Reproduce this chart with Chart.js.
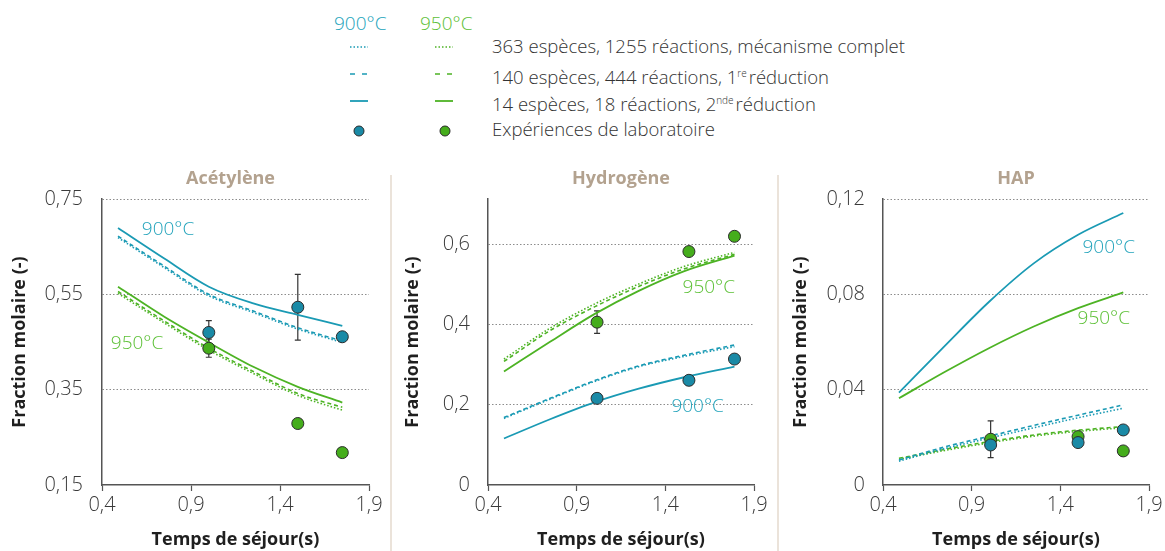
<!DOCTYPE html>
<html lang="fr">
<head>
<meta charset="utf-8">
<script src="https://cdn.jsdelivr.net/npm/chart.js@4.4.0/dist/chart.umd.min.js"></script>
<style>
  body { margin: 0; width: 1165px; height: 551px; background: #fff; position: relative; overflow: hidden;
         font-family: 'Open Sans', sans-serif; }
  .panel { position: absolute; top: 160px; height: 391px; }
  .sep { position: absolute; top: 175px; width: 2px; height: 376px; background: #ebe3da; }
  .lg { position: absolute; white-space: nowrap; line-height: 24px; }
  .lg-head { font-size: 19px; font-weight: 300; top: 11px; }
  .lg-row { font-size: 18.5px; font-weight: 300; color: #333; left: 492px; }
  .lg-row sup { font-size: 10px; vertical-align: 7px; margin-right: 2px; }
  #legendMarks { position: absolute; left: 0; top: 0; }
</style>
</head>
<body>

<!-- legende -->
<div class="lg lg-head" style="left:334px;color:#22a3bb">900°C</div>
<div class="lg lg-head" style="left:420px;color:#5cc036">950°C</div>
<svg id="legendMarks" width="1165" height="145">
  <line x1="350" y1="47" x2="368" y2="47" stroke="#1a9ab4" stroke-width="1.5" stroke-dasharray="1.5 2"/>
  <line x1="435" y1="47" x2="453" y2="47" stroke="#4db324" stroke-width="1.5" stroke-dasharray="1.5 2"/>
  <line x1="350" y1="74" x2="368" y2="74" stroke="#1a9ab4" stroke-width="1.5" stroke-dasharray="5 7"/>
  <line x1="435" y1="74" x2="453" y2="74" stroke="#4db324" stroke-width="1.5" stroke-dasharray="5 7"/>
  <line x1="350" y1="101" x2="368" y2="101" stroke="#1a9ab4" stroke-width="1.8"/>
  <line x1="435" y1="101" x2="453" y2="101" stroke="#4db324" stroke-width="1.8"/>
  <circle cx="359" cy="131" r="5" fill="#1a8aa6" stroke="#2b2b2b" stroke-width="1"/>
  <circle cx="445" cy="131" r="5" fill="#45ad1c" stroke="#2b2b2b" stroke-width="1"/>
</svg>
<div class="lg lg-row" style="top:34px">363 espèces, 1255 réactions, mécanisme complet</div>
<div class="lg lg-row" style="top:61px">140 espèces, 444 réactions, 1<sup>re</sup>réduction</div>
<div class="lg lg-row" style="top:88px">14 espèces, 18 réactions, 2<sup>nde</sup>réduction</div>
<div class="lg lg-row" style="top:117px">Expériences de laboratoire</div>

<div class="sep" style="left:390px"></div>
<div class="sep" style="left:777px"></div>

<canvas id="aceChart" class="panel" style="left:0px" width="390" height="391"></canvas>
<canvas id="h2Chart" class="panel" style="left:390px" width="390" height="391"></canvas>
<canvas id="hapChart" class="panel" style="left:780px" width="385" height="391"></canvas>

<script>
// Temps de séjour (s)
const X_TICKS = [0.4, 0.9, 1.4, 1.9];

// Acétylène
const ACE_T_MODEL = [0.49, 0.75, 1.0, 1.25, 1.5, 1.75];
const ACE_900_COMPLET = [0.669, 0.606, 0.547, 0.512, 0.477, 0.449];
const ACE_900_RED1 = [0.672, 0.609, 0.550, 0.515, 0.480, 0.452];
const ACE_900_RED2 = [0.689, 0.625, 0.566, 0.531, 0.507, 0.484];
const ACE_950_COMPLET = [0.552, 0.490, 0.433, 0.384, 0.338, 0.307];
const ACE_950_RED1 = [0.556, 0.494, 0.437, 0.388, 0.342, 0.313];
const ACE_950_RED2 = [0.566, 0.503, 0.449, 0.398, 0.356, 0.323];
const ACE_T_EXP = [1.0, 1.5, 1.75];
const ACE_900_EXP = [0.470, 0.523, 0.461];
const ACE_900_ERR = [0.025, 0.069, 0.008];
const ACE_950_EXP = [0.437, 0.279, 0.218];
const ACE_950_ERR = [0.019, 0.006, 0];
const ACE_Y_TICKS = [0.15, 0.35, 0.55, 0.75];

// Hydrogène
const H2_T_MODEL = [0.49, 0.75, 1.0, 1.25, 1.5, 1.79];
const H2_900_COMPLET = [0.166, 0.214, 0.258, 0.295, 0.320, 0.345];
const H2_900_RED1 = [0.168, 0.216, 0.260, 0.297, 0.323, 0.349];
const H2_900_RED2 = [0.116, 0.164, 0.206, 0.240, 0.268, 0.295];
const H2_950_COMPLET = [0.314, 0.391, 0.451, 0.501, 0.544, 0.580];
const H2_950_RED1 = [0.308, 0.385, 0.444, 0.495, 0.538, 0.575];
const H2_950_RED2 = [0.283, 0.357, 0.426, 0.484, 0.532, 0.572];
const H2_T_EXP = [1.015, 1.533, 1.79];
const H2_900_EXP = [0.216, 0.261, 0.314];
const H2_900_ERR = [0, 0.012, 0];
const H2_950_EXP = [0.406, 0.582, 0.620];
const H2_950_ERR = [0.028, 0, 0];
const H2_Y_TICKS = [0, 0.2, 0.4, 0.6];

// HAP
const HAP_T_MODEL = [0.49, 0.75, 1.0, 1.25, 1.5, 1.755];
const HAP_900_COMPLET = [0.0100, 0.0153, 0.0197, 0.0240, 0.0282, 0.0322];
const HAP_900_RED1 = [0.0105, 0.0160, 0.0205, 0.0250, 0.0293, 0.0336];
const HAP_900_RED2 = [0.0388, 0.0585, 0.0770, 0.0930, 0.1050, 0.1141];
const HAP_950_COMPLET = [0.0108, 0.0145, 0.0177, 0.0205, 0.0225, 0.0240];
const HAP_950_RED1 = [0.0112, 0.0150, 0.0182, 0.0210, 0.0230, 0.0245];
const HAP_950_RED2 = [0.0364, 0.0475, 0.0575, 0.0665, 0.0742, 0.0808];
const HAP_T_EXP = [1.007, 1.5, 1.755];
const HAP_900_EXP = [0.0168, 0.0178, 0.0231];
const HAP_900_ERR = [0, 0, 0];
const HAP_950_EXP = [0.0192, 0.0203, 0.0143];
const HAP_950_ERR = [0.0077, 0, 0];
const HAP_Y_TICKS = [0, 0.04, 0.08, 0.12];

const TEAL = '#1a9ab4';
const GREEN = '#4db324';
const TEAL_TEXT = '#22a3bb';
const GREEN_TEXT = '#5cc036';
const TEAL_DOT = '#1a8aa6';
const GREEN_DOT = '#45ad1c';
const FONT = 'Open Sans';

const pts = (xs, ys) => xs.map((x, i) => ({ x: x, y: ys[i] }));
const fr = (v, d) => v === 0 ? '0' : v.toFixed(d).replace('.', ',');

function modelLine(xs, ys, color, dash) {
    return {
        data: pts(xs, ys),
        showLine: true,
        borderColor: color,
        borderWidth: dash.length ? 1.6 : 1.8,
        borderDash: dash,
        pointRadius: 0,
        cubicInterpolationMode: 'monotone',
        order: 1
    };
}

function expPoints(xs, ys, errs, fill) {
    return {
        data: pts(xs, ys),
        errors: errs,
        showLine: false,
        pointRadius: 6,
        pointBackgroundColor: fill,
        pointBorderColor: '#2b2b2b',
        pointBorderWidth: 1,
        order: 0
    };
}

// titre du panneau + étiquettes de température
const panelText = {
    id: 'panelText',
    afterDraw(chart, args, opts) {
        const { ctx, chartArea, scales } = chart;
        ctx.save();
        ctx.textAlign = 'center';
        ctx.textBaseline = 'middle';
        ctx.font = 'bold 18px "' + FONT + '"';
        ctx.fillStyle = '#b3a28f';
        ctx.fillText(opts.title, (chartArea.left + chartArea.right) / 2 + (opts.titleShift || 0), 19);
        ctx.font = '300 19px "' + FONT + '"';
        opts.notes.forEach(n => {
            ctx.fillStyle = n.color;
            ctx.fillText(n.text, scales.x.getPixelForValue(n.x), scales.y.getPixelForValue(n.y));
        });
        ctx.restore();
    }
};

// barres d'erreur des mesures
const errorBars = {
    id: 'errorBars',
    beforeDatasetsDraw(chart) {
        const { ctx, scales } = chart;
        ctx.save();
        ctx.strokeStyle = '#333';
        ctx.lineWidth = 1.2;
        chart.data.datasets.forEach(ds => {
            if (!ds.errors) return;
            ds.data.forEach((p, i) => {
                const e = ds.errors[i];
                if (!e) return;
                const x = scales.x.getPixelForValue(p.x);
                const y1 = scales.y.getPixelForValue(p.y - e);
                const y2 = scales.y.getPixelForValue(p.y + e);
                ctx.beginPath();
                ctx.moveTo(x, y1); ctx.lineTo(x, y2);
                ctx.moveTo(x - 3, y1); ctx.lineTo(x + 3, y1);
                ctx.moveTo(x - 3, y2); ctx.lineTo(x + 3, y2);
                ctx.stroke();
            });
        });
        ctx.restore();
    }
};

function makePanel(id, p) {
    const tickFont = { family: FONT, size: 20, weight: '300' };
    const titleFont = { family: FONT, size: 18, weight: 'bold' };
    return new Chart(document.getElementById(id), {
        type: 'scatter',
        data: { datasets: p.datasets },
        plugins: [panelText, errorBars],
        options: {
            responsive: false,
            animation: false,
            layout: { padding: { top: 39, right: p.padRight, left: 0, bottom: 0 } },
            plugins: {
                legend: { display: false },
                tooltip: { enabled: false },
                panelText: { title: p.title, titleShift: p.titleShift, notes: p.notes }
            },
            scales: {
                x: {
                    type: 'linear',
                    min: 0.4,
                    max: 1.9,
                    afterBuildTicks: s => { s.ticks = X_TICKS.map(v => ({ value: v })); },
                    afterFit: s => { s.height = 66; },
                    grid: { drawOnChartArea: false, drawTicks: true, tickLength: 6, tickColor: '#555', tickWidth: 1.2 },
                    border: { color: '#555', width: 1.5 },
                    ticks: { padding: 2, color: '#3a3a3a', font: tickFont, callback: v => fr(v, 1) },
                    title: { display: true, text: 'Temps de séjour(s)', color: '#1f1f1f', font: titleFont,
                             padding: { top: 0, bottom: 0 } }
                },
                y: {
                    type: 'linear',
                    min: p.yMin,
                    max: p.yMax,
                    afterBuildTicks: s => { s.ticks = p.yTicks.map(v => ({ value: v })); },
                    afterFit: s => { s.width = p.axisWidth; },
                    grid: {
                        drawTicks: false,
                        lineWidth: 1,
                        color: c => c.tick && c.tick.value === p.yMin ? 'rgba(0,0,0,0)' : '#8c8c8c'
                    },
                    border: { color: '#555', width: 1.5, dash: [1.5, 2] },
                    ticks: { padding: p.tickPad, color: '#3a3a3a', font: tickFont, callback: v => fr(v, p.dec) },
                    title: { display: true, text: 'Fraction molaire (-)', color: '#1f1f1f', font: titleFont,
                             padding: { top: p.yTitlePad, bottom: 0 } }
                }
            }
        }
    });
}

makePanel('aceChart', {
    title: 'Acétylène', titleShift: -5,
    yMin: 0.15, yMax: 0.75, yTicks: ACE_Y_TICKS, dec: 2,
    axisWidth: 102, padRight: 21, tickPad: 19, yTitlePad: 9,
    notes: [
        { text: '900°C', x: 0.771, y: 0.685, color: TEAL_TEXT },
        { text: '950°C', x: 0.597, y: 0.446, color: GREEN_TEXT }
    ],
    datasets: [
        expPoints(ACE_T_EXP, ACE_900_EXP, ACE_900_ERR, TEAL_DOT),
        expPoints(ACE_T_EXP, ACE_950_EXP, ACE_950_ERR, GREEN_DOT),
        modelLine(ACE_T_MODEL, ACE_900_COMPLET, TEAL, [1.5, 2]),
        modelLine(ACE_T_MODEL, ACE_900_RED1, TEAL, [4, 3]),
        modelLine(ACE_T_MODEL, ACE_900_RED2, TEAL, []),
        modelLine(ACE_T_MODEL, ACE_950_COMPLET, GREEN, [1.5, 2]),
        modelLine(ACE_T_MODEL, ACE_950_RED1, GREEN, [4, 3]),
        modelLine(ACE_T_MODEL, ACE_950_RED2, GREEN, [])
    ]
});

makePanel('h2Chart', {
    title: 'Hydrogène',
    yMin: 0, yMax: 0.713, yTicks: H2_Y_TICKS, dec: 1,
    axisWidth: 98, padRight: 26, tickPad: 18, yTitlePad: 12,
    notes: [
        { text: '950°C', x: 1.645, y: 0.491, color: GREEN_TEXT },
        { text: '900°C', x: 1.582, y: 0.195, color: TEAL_TEXT }
    ],
    datasets: [
        expPoints(H2_T_EXP, H2_900_EXP, H2_900_ERR, TEAL_DOT),
        expPoints(H2_T_EXP, H2_950_EXP, H2_950_ERR, GREEN_DOT),
        modelLine(H2_T_MODEL, H2_900_COMPLET, TEAL, [1.5, 2]),
        modelLine(H2_T_MODEL, H2_900_RED1, TEAL, [4, 3]),
        modelLine(H2_T_MODEL, H2_900_RED2, TEAL, []),
        modelLine(H2_T_MODEL, H2_950_COMPLET, GREEN, [1.5, 2]),
        modelLine(H2_T_MODEL, H2_950_RED1, GREEN, [4, 3]),
        modelLine(H2_T_MODEL, H2_950_RED2, GREEN, [])
    ]
});

makePanel('hapChart', {
    title: 'HAP',
    yMin: 0, yMax: 0.12, yTicks: HAP_Y_TICKS, dec: 2,
    axisWidth: 103, padRight: 16, tickPad: 18, yTitlePad: 10,
    notes: [
        { text: '900°C', x: 1.673, y: 0.0995, color: TEAL_TEXT },
        { text: '950°C', x: 1.645, y: 0.0697, color: GREEN_TEXT }
    ],
    datasets: [
        expPoints(HAP_T_EXP, HAP_900_EXP, HAP_900_ERR, TEAL_DOT),
        expPoints(HAP_T_EXP, HAP_950_EXP, HAP_950_ERR, GREEN_DOT),
        modelLine(HAP_T_MODEL, HAP_900_COMPLET, TEAL, [1.5, 2]),
        modelLine(HAP_T_MODEL, HAP_900_RED1, TEAL, [4, 3]),
        modelLine(HAP_T_MODEL, HAP_900_RED2, TEAL, []),
        modelLine(HAP_T_MODEL, HAP_950_COMPLET, GREEN, [1.5, 2]),
        modelLine(HAP_T_MODEL, HAP_950_RED1, GREEN, [4, 3]),
        modelLine(HAP_T_MODEL, HAP_950_RED2, GREEN, [])
    ]
});
</script>
</body>
</html>
